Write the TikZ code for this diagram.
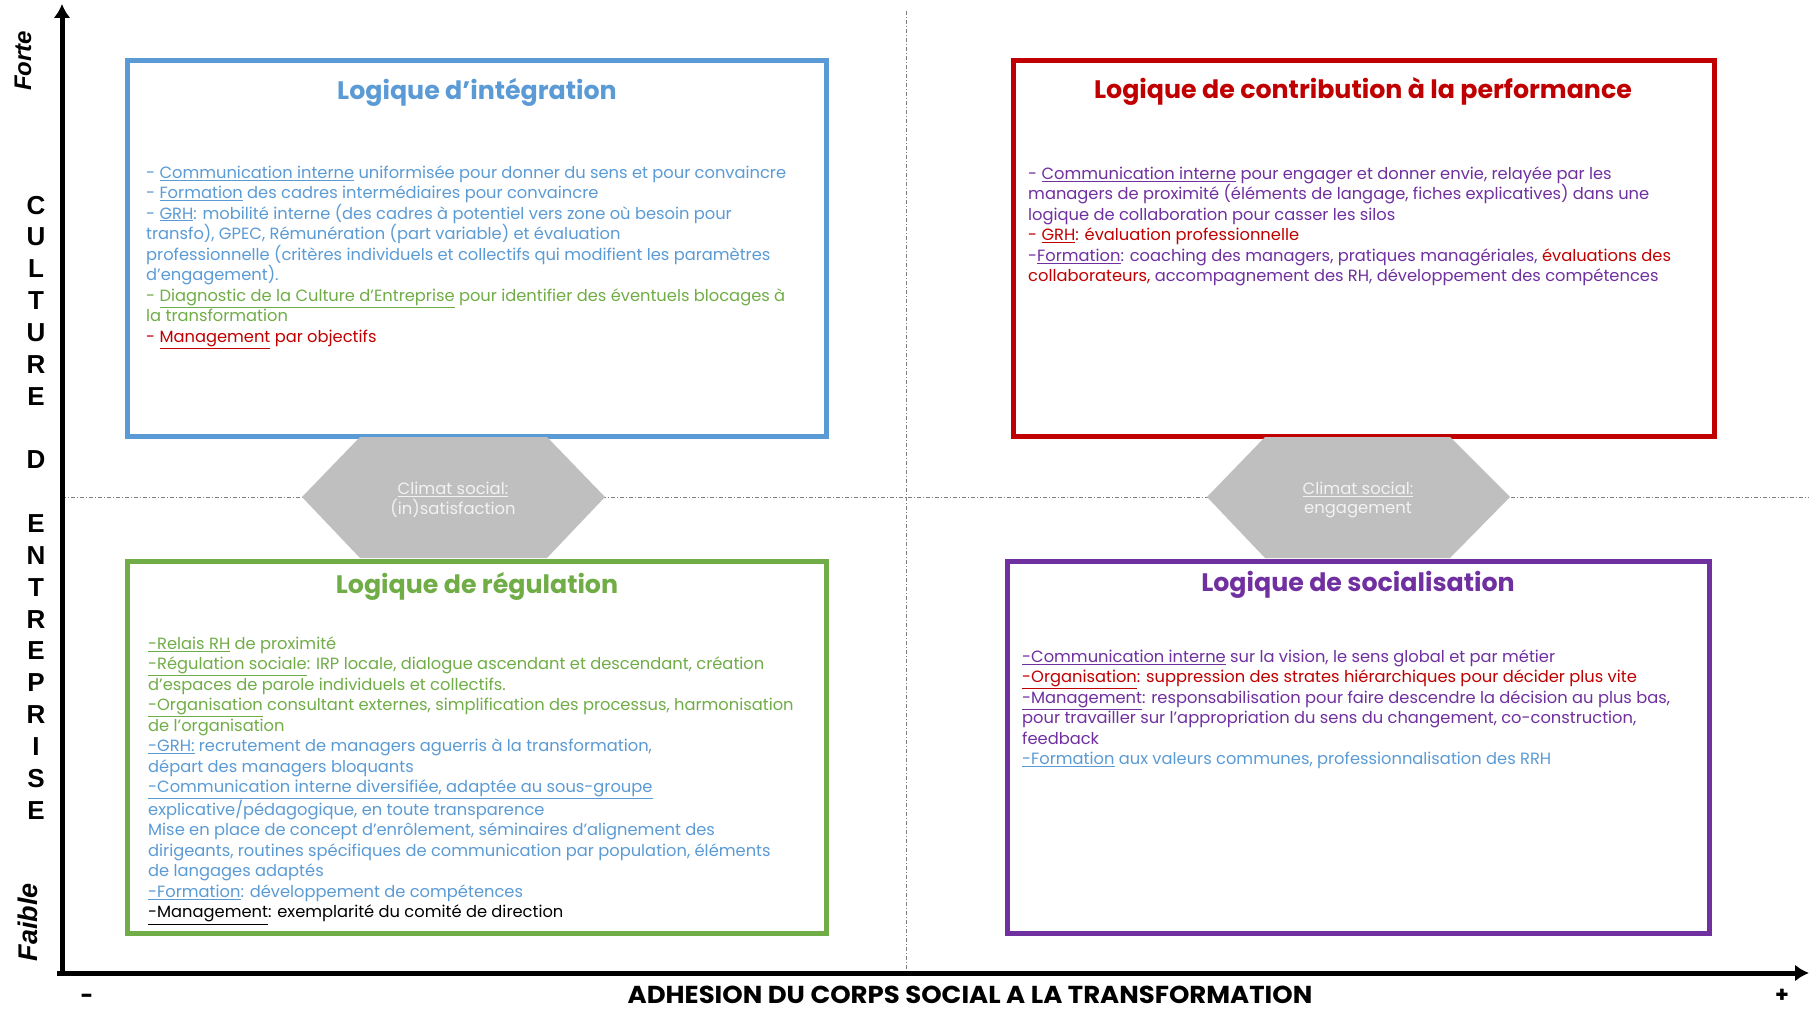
\documentclass[tikz,border=0pt]{standalone}
\usepackage{fontspec}
\usepackage{graphicx}
\setmainfont{Poppins}
\newfontfamily\arialfont{Liberation Sans}
\usetikzlibrary{arrows.meta}
\definecolor{cblue}{HTML}{5B9BD5}
\definecolor{cgreen}{HTML}{70AD47}
\definecolor{cred}{HTML}{C00000}
\definecolor{cpurple}{HTML}{7030A0}
\definecolor{cgrey}{HTML}{BFBFBF}
\definecolor{chex}{HTML}{F2F2F2}
\definecolor{cgrid}{HTML}{808080}
\tikzset{
  qbox/.style={draw, line width=5pt, minimum width=#1, inner sep=0pt},
  qtitle/.style={font=\fontsize{25.3}{29}\selectfont\bfseries, inner sep=0pt},
  body/.style={anchor=north west, inner sep=0pt, align=left, font=\fontsize{16.3}{20.5}\selectfont},
  hextext/.style={text=chex, align=center, inner sep=0pt, font=\fontsize{16.4}{19.5}\selectfont},
  gridline/.style={draw=cgrid, line width=1pt, dash pattern=on 4pt off 2pt on 1pt off 2pt},
  axis/.style={line width=5pt, -{Latex[length=14pt,width=17pt]}},
  axlab/.style={font=\arialfont\bfseries\itshape\fontsize{#1}{#1}\selectfont, rotate=90, inner sep=0pt},
}
\begin{document}
\begin{tikzpicture}[x=1pt,y=-1pt]
\useasboundingbox (0,0) rectangle (1809,1011);
\fill[white] (0,0) rectangle (1809,1011);
% grid lines
\coordinate (vtop) at (906,11);
\coordinate (vbot) at (906,973);
\coordinate (hl) at (62,497);
\coordinate (hr) at (1809,497);
\draw[gridline] (vtop) -- (vbot);
\draw[gridline] (hl) -- (hr);
% axes
\coordinate (O) at (62,973);
\coordinate (Ostart) at (57,973);
\coordinate (Ytop) at (62,4);
\coordinate (Xend) at (1809,973);
\draw[axis] (O) -- (Ytop);
\draw[axis] (Ostart) -- (Xend);
% boxes
\node[qbox=699pt, minimum height=375pt, draw=cblue] (bb) at (476.5,248.5) {};
\node[qbox=701pt, minimum height=375pt, draw=cred] (rb) at (1363.5,248.5) {};
\node[qbox=699pt, minimum height=372pt, draw=cgreen] (gb) at (476.5,747) {};
\node[qbox=702pt, minimum height=372pt, draw=cpurple] (pb) at (1358,747) {};
% titles
\node[qtitle, text=cblue] (bt) at (477,92) {Logique d'intégration};
\node[qtitle, text=cred] (rt) at (1363,91) {Logique de contribution à la performance};
\node[qtitle, text=cgreen] (gt) at (477,586) {Logique de régulation};
\node[qtitle, text=cpurple] (pt) at (1358,585) {Logique de socialisation};
% blue body
\node[body, text=cblue] (bbody) at (146,163) {\rule{0pt}{15pt}- \underline{Communication interne} uniformisée pour donner du sens et pour convaincre\\
- \underline{Formation} des cadres intermédiaires pour convaincre\\
- \underline{GRH}:  mobilité interne (des cadres à potentiel vers zone où besoin pour\\
transfo),  GPEC,   Rémunération (part variable) et évaluation\\
professionnelle (critères individuels et collectifs qui modifient les paramètres\\
d'engagement).\\
\textcolor{cgreen}{- \underline{Diagnostic de la Culture d'Entreprise} pour identifier des éventuels blocages à}\\
\textcolor{cgreen}{la transformation}\\
\textcolor{cred}{- \underline{Management} par objectifs}};
% red body
\node[body, text=cpurple] (rbody) at (1028,164) {\rule{0pt}{15pt}- \underline{Communication interne} pour engager et donner envie, relayée par les\\
managers de proximité (éléments de langage, fiches explicatives) dans une\\
logique de collaboration pour casser les silos\\
\textcolor{cred}{- \underline{GRH}:  évaluation professionnelle}\\
-\underline{Formation}: coaching des managers, pratiques managériales, \textcolor{cred}{évaluations des}\\
\textcolor{cred}{collaborateurs,}  accompagnement des RH, développement des compétences};
% green body
\node[body, text=cgreen] (gbody) at (148,634) {\rule{0pt}{15pt}\underline{-Relais RH} de proximité\\
\underline{-Régulation sociale}: IRP locale, dialogue ascendant et descendant, création\\
d'espaces de parole individuels et collectifs.\\
\underline{-Organisation} consultant externes, simplification des processus, harmonisation\\
de l'organisation\\
\textcolor{cblue}{\underline{-GRH:}  recrutement de managers aguerris à  la transformation,}\\
\textcolor{cblue}{départ des managers  bloquants}\\
\textcolor{cblue}{\underline{-Communication interne diversifiée, adaptée au sous-groupe}}\\
\textcolor{cblue}{explicative/pédagogique, en toute transparence}\\
\textcolor{cblue}{Mise en place de  concept d'enrôlement, séminaires d'alignement des}\\
\textcolor{cblue}{dirigeants, routines spécifiques de communication par population, éléments}\\
\textcolor{cblue}{de langages adaptés}\\
\textcolor{cblue}{\underline{-Formation}: développement de compétences}\\
\textcolor{black}{\underline{-Management}: exemplarité du comité de direction}};
% purple body
\node[body, text=cpurple] (pbody) at (1022,647) {\rule{0pt}{15pt}\underline{-Communication interne} sur la vision, le sens global et par métier\\
\textcolor{cred}{\underline{-Organisation}: suppression des strates hiérarchiques pour décider plus vite}\\
\underline{-Management}:  responsabilisation pour faire descendre la décision au plus bas,\\
pour travailler sur l'appropriation du sens du  changement,  co-construction,\\
feedback\\
\textcolor{cblue}{\underline{-Formation} aux valeurs communes, professionnalisation des RRH}};
% hexagons
\fill[cgrey] (302,497) -- (360,437) -- (547,437) -- (605,497) -- (547,558) -- (360,558) -- cycle;
\node[hextext] (h1) at (453,500) {\underline{Climat social:}\\(in)satisfaction};
\fill[cgrey] (1207,497) -- (1265,437) -- (1450,437) -- (1510,497) -- (1450,558) -- (1265,558) -- cycle;
\node[hextext] (h2) at (1358,500) {\underline{Climat social:}\\engagement};
% axis labels
\node[axlab=24] (forte) at (23,61) {Forte};
\node[axlab=27] (faible) at (28,922) {Faible};
\node[inner sep=0pt, align=center, font=\arialfont\bfseries\fontsize{26}{31.84}\selectfont] (cult) at (36,507.5) {C\\U\\L\\T\\U\\R\\E\\~\\D\\~\\E\\N\\T\\R\\E\\P\\R\\I\\S\\E};
\node[inner sep=0pt, font=\fontsize{24.5}{25}\selectfont\bfseries] (xlab) at (970,995) {\scalebox{1.06}[1]{ADHESION DU CORPS SOCIAL A LA TRANSFORMATION}};
\node[inner sep=0pt, font=\fontsize{22}{22}\selectfont\bfseries] (minus) at (87,999) {-};
\node[inner sep=0pt, font=\fontsize{22}{22}\selectfont\bfseries] (plus) at (1782,996) {+};
\end{tikzpicture}
\end{document}
